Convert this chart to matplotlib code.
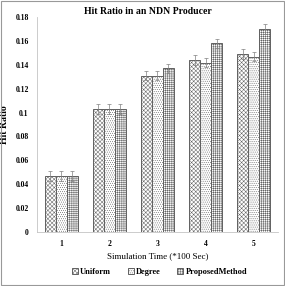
import matplotlib
matplotlib.use("Agg")
import matplotlib.pyplot as plt
import numpy as np
from matplotlib.patches import Rectangle

plt.rcParams['font.family'] = ['Liberation Serif', 'DejaVu Serif']
plt.rcParams['hatch.linewidth'] = 0.35
plt.rcParams['hatch.color'] = '#b4b4b4'

times = ['1', '2', '3', '4', '5']
uniform = [0.047, 0.103, 0.131, 0.144, 0.149]
degree = [0.047, 0.103, 0.131, 0.142, 0.147]
proposed = [0.047, 0.103, 0.137, 0.158, 0.170]
err = 0.004
series = [('Uniform', uniform, 'xxxxxxxx'), ('Degree', degree, '........'), ('ProposedMethod', proposed, '++++++++')]

fig = plt.figure(figsize=(2.85, 2.86), dpi=100)
ax = fig.add_axes([0.13, 0.189, 0.845, 0.751])

x = np.arange(1, 6)
w = 0.228
for i, (name, vals, h) in enumerate(series):
    ax.bar(x + (i - 1) * w, vals, w, color='white', edgecolor='#606060', linewidth=0.7,
           hatch=h, label=name,
           yerr=err, error_kw=dict(ecolor='#808080', elinewidth=0.5, capsize=1.5, capthick=0.5))

ax.set_xlim(0.5, 5.5)
ax.set_ylim(0, 0.18)
ax.set_yticks(np.arange(0, 0.181, 0.02))
ax.set_yticklabels(['0', '0.02', '0.04', '0.06', '0.08', '0.1', '0.12', '0.14', '0.16', '0.18'])
ax.set_xticks(x)
ax.set_xticklabels(times)
ax.tick_params(length=0, labelsize=5.5, pad=6)
for lab in ax.get_xticklabels() + ax.get_yticklabels():
    lab.set_fontweight('bold')
for s in ['top', 'right']:
    ax.spines[s].set_visible(False)
ax.spines['left'].set_color('#c4c4c4')
ax.spines['bottom'].set_color('#c4c4c4')
ax.spines['left'].set_linewidth(0.6)
ax.spines['bottom'].set_linewidth(0.6)

fig.text(0.52, 1 - 11 / 286, 'Hit Ratio in an NDN Producer', fontsize=7, fontweight='bold',
         ha='center', va='center')
ax.set_xlabel('Simulation Time (*100 Sec)', fontsize=6.5, labelpad=3)
ax.set_ylabel('Hit Ratio', fontsize=7, fontweight='bold')
ax.yaxis.set_label_coords(-0.115, 0.5)

fig.legend(loc='center', bbox_to_anchor=(0.56, 0.05), ncol=3, frameon=False,
           prop=dict(size=6, weight='bold'), handlelength=0.7, handleheight=0.7,
           handletextpad=0.3, columnspacing=2.0)

fig.patches.append(Rectangle((0.003, 0.003), 0.994, 0.994, transform=fig.transFigure,
                             fill=False, edgecolor='#999999', linewidth=0.8))

fig.savefig('out.png', dpi=100)
